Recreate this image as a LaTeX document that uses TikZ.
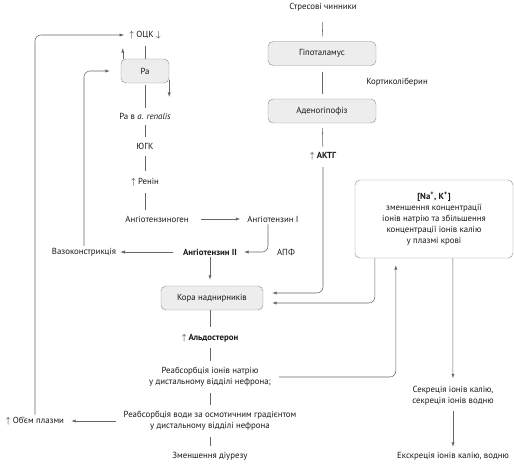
\documentclass[tikz,border=0pt]{standalone}
\usepackage{fontspec}
\setmainfont{PT Sans}
\usetikzlibrary{arrows.meta}

\begin{document}
\begin{tikzpicture}[x=1pt,y=-1pt,
    every node/.style={font=\fontsize{8.8}{11}\selectfont,text=black!90},
    txt/.style={inner sep=2pt,align=center},
    blok/.style={draw=black!45,fill=black!7,rounded corners=5pt,
                 minimum width=108pt,minimum height=24pt},
    lnk/.style={draw=black!60,line width=.55pt},
    arr/.style={lnk,-{Latex[length=4.5pt,width=3.2pt]}}]
\useasboundingbox (0,0) rectangle (514,468);
% stress column
\node[txt] (stress) at (323,7) {Стресові чинники};
\node[blok] (hypo) at (322,53.5) {Гіпоталамус};
\node[txt] (cortico) at (397,82) {Кортиколіберин};
\node[blok] (adeno) at (322,111) {Аденогіпофіз};
\node[txt,font=\fontsize{8.8}{11}\selectfont\bfseries] (actg) at (323,156) {$\uparrow$ АКТГ};
\draw[lnk,shorten <=9pt,shorten >=5pt] (stress) -- (hypo);
\draw[lnk,shorten <=6pt,shorten >=5pt] (hypo) -- (adeno);
\draw[lnk,shorten <=5pt,shorten >=3pt] (adeno) -- (actg);
% renin column
\node[txt] (ock) at (145,35) {$\uparrow$ ОЦК $\downarrow$};
\node[blok,minimum width=48pt] (ra) at (145,71) {Ра};
\node[txt] (rar) at (145,116) {Ра в \textit{a. renalis}};
\node[txt] (jgk) at (145,146) {ЮГК};
\node[txt] (renin) at (145,182) {$\uparrow$ Ренін};
\node[txt] (agen) at (157,219) {Ангіотензиноген};
\node[txt] (ang1) at (273,219) {Ангіотензин I};
\node[txt,font=\fontsize{8.8}{11}\selectfont\bfseries] (ang2) at (210,252) {Ангіотензин II};
\node[txt] (apf) at (286,252) {АПФ};
\node[txt] (vaso) at (84,252) {Вазоконстрикція};
\draw[lnk,shorten <=5pt] (ock) -- (ra);
\draw[arr,shorten >=7pt] ([xshift=2pt]ra.north west) -- ([xshift=2pt]ra.north west |- ock.south);
\draw[arr] ([yshift=-9pt]ra.east) -- ++(0,17);
\draw[lnk,shorten <=2pt,shorten >=3pt] (ra) -- (rar);
\draw[lnk,shorten <=4pt,shorten >=4pt] (rar) -- (jgk);
\draw[lnk,shorten <=5pt,shorten >=5pt] (jgk) -- (renin);
\draw[lnk,shorten <=5pt,shorten >=4pt] (renin) -- (renin |- agen.north);
\draw[arr,shorten <=10pt,shorten >=5pt] (agen) -- (ang1);
\draw[arr,rounded corners=6pt,shorten >=5pt] ([xshift=-5pt]ang1.south) |- (ang2.east);
\draw[arr,shorten <=8pt,shorten >=2pt] (ang2) -- (vaso);
\draw[arr,rounded corners=6pt,shorten >=11pt] (vaso) |- (ra.west);
% cortex column
\node[blok,minimum width=102pt] (kora) at (212,298) {Кора наднирників};
\node[txt,font=\fontsize{8.8}{11}\selectfont\bfseries] (aldo) at (210,338) {$\uparrow$ Альдостерон};
\node[txt] (rna) at (210,377) {Реабсорбція іонів натрію\\у дистальному відділі нефрона;};
\node[txt] (water) at (210,421) {Реабсорбція води за осмотичним градієнтом\\у дистальному відділі нефрона};
\node[txt] (dimin) at (210,456) {Зменшення діурезу};
\node[txt] (plasma) at (35,421) {$\uparrow$ Об’єм плазми};
\draw[arr,shorten >=6pt] (ang2) -- (ang2 |- kora.north);
\draw[lnk,shorten >=5pt] (aldo |- kora.south) -- (aldo);
\draw[lnk,shorten <=4pt,shorten >=4pt] (aldo) -- (rna);
\draw[lnk,shorten <=4pt,shorten >=4pt] (rna) -- (water);
\draw[lnk,shorten <=4pt,shorten >=4pt] (water) -- (dimin);
\draw[arr,shorten <=5pt,shorten >=5pt] (water) -- (plasma);
\draw[arr,rounded corners=6pt,shorten >=3pt] (plasma) |- (ock.west);
\draw[arr,rounded corners=6pt,shorten <=5pt,shorten >=9pt] (actg) |- ([yshift=5pt]kora.east);
% ion box
\node[draw=black!45,fill=white,rounded corners=5pt,minimum width=158pt,minimum height=78pt,
      align=center,inner sep=2pt] (nabox) at (434,219)
  {\textbf{[Na\textsuperscript{+}, K\textsuperscript{+}]}\\зменшення концентрації\\іонів натрію та збільшення\\концентрації іонів калію\\у плазмі крові};
\node[txt] (sec) at (453,396) {Секреція іонів калію,\\секреція іонів водню};
\node[txt] (exc) at (453,456) {Екскреція іонів калію, водню};
\draw[arr,rounded corners=6pt,shorten >=9pt] ([xshift=20pt]nabox.south west) |- ([yshift=-5pt]kora.east);
\draw[arr,rounded corners=6pt,shorten <=6pt,shorten >=7pt] (rna) -| ([xshift=41pt]nabox.south west);
\draw[arr,shorten >=6pt] ([xshift=98pt]nabox.south west) -- (sec);
\draw[arr,shorten <=3pt,shorten >=3pt] (sec) -- (exc);
\end{tikzpicture}
\end{document}
